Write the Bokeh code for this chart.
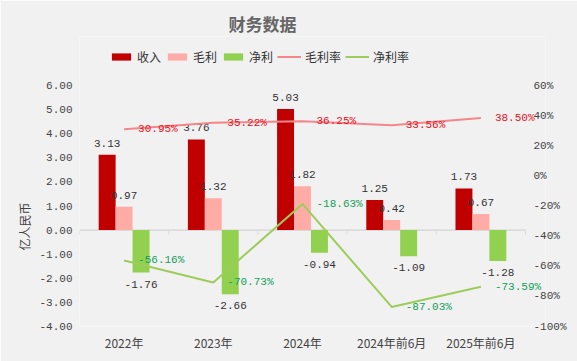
from bokeh.plotting import figure
from bokeh.models import (Range1d, LinearAxis, FixedTicker, Legend, LegendItem,
                          ColumnDataSource, NumeralTickFormatter, Title)
from bokeh.core.properties import value
from bokeh.embed import file_html
from bokeh.resources import INLINE

categories = ["2022年", "2023年", "2024年", "2024年前6月", "2025年前6月"]
revenue = [3.13, 3.76, 5.03, 1.25, 1.73]
gross_profit = [0.97, 1.32, 1.82, 0.42, 0.67]
net_profit = [-1.76, -2.66, -0.94, -1.09, -1.28]
gross_margin = [30.95, 35.22, 36.25, 33.56, 38.50]
net_margin = [-56.16, -70.73, -18.63, -87.03, -73.59]
left_ticks = [-4, -3, -2, -1, 0, 1, 2, 3, 4, 5, 6]
right_ticks = [-100, -80, -60, -40, -20, 0, 20, 40, 60]

C_REV = "#c00000"
C_GP = "#ffaca6"
C_NP = "#92d050"
C_GM = "#f4878a"
C_NM = "#9ccc5a"
BG = "#f1f1f1"
MONO = "Liberation Mono"
CJK = "Noto Sans CJK SC"

n = len(categories)
centers = [i + 0.5 for i in range(n)]
bw = 0.19

# layout (pixels)
W, H = 577, 361
LEFT, RIGHT_PAD, TOP, BOTTOM = 79, 32, 36, 35
AXIS_H = 241          # height of the -4..6 span
CAT_W = 89.2          # width of one category
EXT_TOP = (H - BOTTOM - TOP) - AXIS_H
frame_w = W - LEFT - RIGHT_PAD
x_end = frame_w / CAT_W
y_top = 6 + EXT_TOP * 10 / AXIS_H
p_top = 60 + EXT_TOP * 160 / AXIS_H

p = figure(width=W, height=H, output_backend="svg", toolbar_location=None,
           x_range=Range1d(0, x_end), y_range=Range1d(-4, y_top),
           min_border_left=LEFT, min_border_right=RIGHT_PAD, min_border_bottom=BOTTOM,
           min_border_top=TOP,
           background_fill_color=BG, border_fill_color=BG, outline_line_color=None)
p.extra_y_ranges = {"pct": Range1d(-100, p_top)}
p.grid.visible = False

t = Title(text="财务数据", align="left", offset=149, standoff=1,
          text_font=CJK, text_font_size="17px", text_color="#666666", text_font_style="bold")
p.add_layout(t, "above")

# axes
p.xaxis.ticker = FixedTicker(ticks=centers)
p.xaxis.major_label_overrides = {c: categories[i] for i, c in enumerate(centers)}
p.xaxis.axis_line_color = None
p.xaxis.major_tick_line_color = None
p.xaxis.minor_tick_line_color = None
p.xaxis.major_tick_out = 0
p.xaxis.major_tick_in = 0
p.xaxis.major_label_text_font = CJK
p.xaxis.major_label_text_font_size = "12px"
p.xaxis.major_label_text_color = "#444444"
p.xaxis.major_label_standoff = 7

p.yaxis.ticker = FixedTicker(ticks=left_ticks)
p.yaxis.formatter = NumeralTickFormatter(format="0.00")
p.yaxis.axis_line_color = None
p.yaxis.major_tick_line_color = None
p.yaxis.minor_tick_line_color = None
p.yaxis.major_tick_out = 0
p.yaxis.major_tick_in = 0
p.yaxis.major_label_text_font = MONO
p.yaxis.major_label_text_font_size = "11px"
p.yaxis.major_label_text_color = "#444444"
p.yaxis.major_label_standoff = 7

ytitle = Title(text="亿人民币", align="left", offset=76, standoff=8,
               text_font=CJK, text_font_size="12px", text_font_style="normal",
               text_color="#444444")
p.add_layout(ytitle, "left")

ra = LinearAxis(y_range_name="pct", ticker=FixedTicker(ticks=right_ticks),
                formatter=NumeralTickFormatter(format="0"))
ra.major_label_overrides = {t: f"{t}%" for t in right_ticks}
ra.axis_line_color = None
ra.major_tick_line_color = None
ra.minor_tick_line_color = None
ra.major_tick_out = 0
ra.major_tick_in = 0
ra.major_label_text_font = MONO
ra.major_label_text_font_size = "11px"
ra.major_label_text_color = "#444444"
ra.major_label_standoff = -12
p.add_layout(ra, "right")

# zero line and category boundary ticks
bx = list(range(n + 1))
p.segment(x0=[0], x1=[n], y0=[0], y1=[0], line_color="#cccccc", line_width=1)
p.segment(x0=bx, x1=bx, y0=[0] * len(bx), y1=[-0.2] * len(bx), line_color="#dddddd", line_width=1)

# bars
xr = [c - bw for c in centers]
xg = centers
xn = [c + bw for c in centers]
r1 = p.vbar(x=xr, top=revenue, bottom=0, width=bw, fill_color=C_REV, line_color=None)
r2 = p.vbar(x=xg, top=gross_profit, bottom=0, width=bw, fill_color=C_GP, line_color=None)
r3 = p.vbar(x=xn, top=net_profit, bottom=0, width=bw, fill_color=C_NP, line_color=None)

# bar labels
bx_all = xr + xg + xn
bv_all = revenue + gross_profit + net_profit
src = ColumnDataSource(dict(
    x=bx_all, y=bv_all, t=[f"{v:.2f}" for v in bv_all],
    yo=[-8 if v >= 0 else 8 for v in bv_all],
    bl=["bottom" if v >= 0 else "top" for v in bv_all]))
p.text(x="x", y="y", text="t", y_offset="yo", text_baseline="bl", text_align="center",
       text_font=value(MONO), text_font_size="11px", text_color="#333333", source=src)

# lines
r4 = p.line(x=centers, y=gross_margin, y_range_name="pct", line_color=C_GM, line_width=2)
r5 = p.line(x=centers, y=net_margin, y_range_name="pct", line_color=C_NM, line_width=2)
p.text(x=centers, y=gross_margin, text=[f"{v:.2f}%" for v in gross_margin], y_range_name="pct",
       x_offset=14, text_align="left", text_baseline="middle",
       text_font=value(MONO), text_font_size="11px", text_color="#e8101c")
p.text(x=centers, y=net_margin, text=[f"{v:.2f}%" for v in net_margin], y_range_name="pct",
       x_offset=14, text_align="left", text_baseline="middle",
       text_font=value(MONO), text_font_size="11px", text_color="#12a05a")

legend = Legend(items=[
    LegendItem(label="收入", renderers=[r1]),
    LegendItem(label="毛利", renderers=[r2]),
    LegendItem(label="净利", renderers=[r3]),
    LegendItem(label="毛利率", renderers=[r4]),
    LegendItem(label="净利率", renderers=[r5]),
], orientation="horizontal", location=(30, 261))
legend.background_fill_alpha = 0
legend.border_line_color = None
legend.glyph_width = 24
legend.glyph_height = 9
legend.label_standoff = 4
legend.spacing = 4
legend.padding = 2
legend.margin = 0
legend.label_text_font = CJK
legend.label_text_font_size = "12px"
legend.label_text_color = "#333333"
p.add_layout(legend, "center")

open("out.html", "w").write(file_html(p, INLINE))
